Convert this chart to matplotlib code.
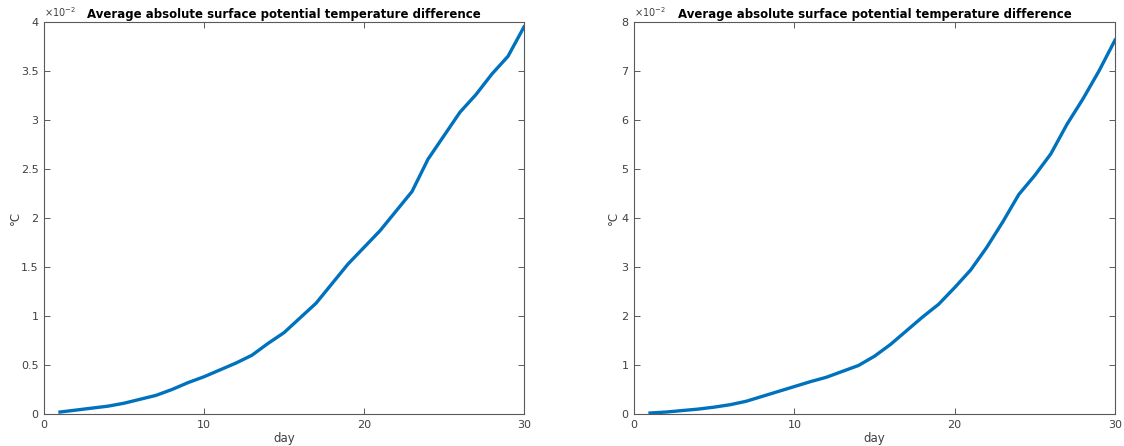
import matplotlib
matplotlib.use("Agg")
import matplotlib.pyplot as plt
from matplotlib.ticker import FuncFormatter, MultipleLocator

days = list(range(1, 31))
left_vals = [0.0002, 0.0004, 0.0006, 0.0008, 0.0011, 0.0015, 0.0019, 0.0025, 0.0032, 0.0038,
             0.0045, 0.0052, 0.0060, 0.0072, 0.0083, 0.0098, 0.0113, 0.0133, 0.0153, 0.0170,
             0.0187, 0.0207, 0.0227, 0.0260, 0.0284, 0.0308, 0.0326, 0.0347, 0.0365, 0.0395]
right_vals = [0.0002, 0.0004, 0.0007, 0.0010, 0.0014, 0.0019, 0.0026, 0.0036, 0.0046, 0.0056,
              0.0066, 0.0075, 0.0087, 0.0099, 0.0118, 0.0142, 0.0170, 0.0198, 0.0224, 0.0258,
              0.0294, 0.0340, 0.0392, 0.0448, 0.0487, 0.0531, 0.0591, 0.0643, 0.0700, 0.0763]
title = "Average absolute surface potential temperature difference"
xlabel = "day"
ylabel = "°C"

W, H = 1124, 446
fig = plt.figure(figsize=(W / 100, H / 100), dpi=100)
plt.rcParams['font.family'] = ['DejaVu Sans']

tickcol = '#404040'
spinecol = '#5a5a5a'

def setup(ax, vals, ymax, ystep, ylab_x):
    ax.plot(days, vals, color='#0072BD', lw=2.4, solid_joinstyle='round')
    ax.set_xlim(0, 30)
    ax.set_ylim(0, ymax)
    ax.xaxis.set_major_locator(MultipleLocator(10))
    ax.yaxis.set_major_locator(MultipleLocator(ystep))
    ax.yaxis.set_major_formatter(FuncFormatter(lambda v, p: f"{round(v * 100, 6):g}"))
    ax.tick_params(direction='in', length=4, width=0.6, colors=tickcol,
                   labelsize=8, top=True, right=True, pad=4)
    for s in ax.spines.values():
        s.set_color(spinecol)
        s.set_linewidth(0.8)
    ax.set_title(title, fontsize=8.5, fontweight='bold', color='black', pad=3)
    ax.set_xlabel(xlabel, fontsize=8.5, color=tickcol, labelpad=2)
    ax.set_ylabel(ylabel, fontsize=8.5, color=tickcol)
    ax.yaxis.set_label_coords(ylab_x, 0.5)
    ax.text(0.0, 1.008, r"$\times10^{-2}$", transform=ax.transAxes, fontsize=7,
            color=tickcol, ha='left', va='bottom')

ax1 = fig.add_axes([44 / W, (H - 414) / H, 480 / W, 392 / H])
setup(ax1, left_vals, 0.04, 0.005, -0.047)
ax2 = fig.add_axes([634 / W, (H - 414) / H, 481 / W, 392 / H])
setup(ax2, right_vals, 0.08, 0.01, -0.030)

fig.savefig("out.png", dpi=100)
